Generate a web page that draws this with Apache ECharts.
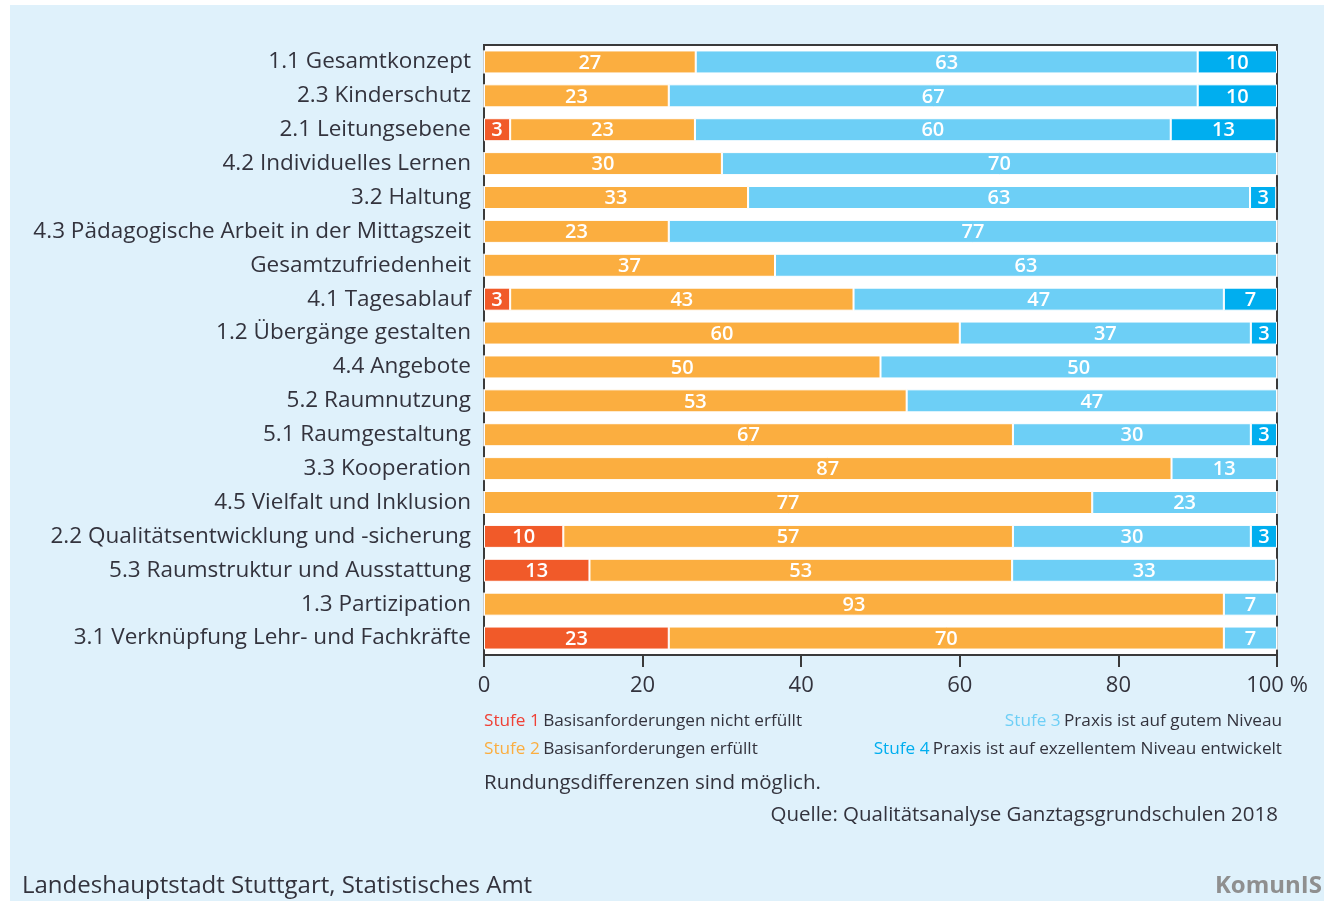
<!DOCTYPE html>
<html>
<head>
<meta charset="utf-8">
<script src="https://cdn.jsdelivr.net/npm/echarts@6/dist/echarts.min.js"></script>
<style>
  html, body { margin: 0; padding: 0; background: #fff; }
  #main { width: 1324px; height: 901px; }
</style>
</head>
<body>
<div id="main"></div>
<script>
// Kategorien von oben nach unten
var categories = [
    '1.1 Gesamtkonzept', '2.3 Kinderschutz', '2.1 Leitungsebene',
    '4.2 Individuelles Lernen', '3.2 Haltung',
    '4.3 Pädagogische Arbeit in der Mittagszeit', 'Gesamtzufriedenheit',
    '4.1 Tagesablauf', '1.2 Übergänge gestalten', '4.4 Angebote',
    '5.2 Raumnutzung', '5.1 Raumgestaltung', '3.3 Kooperation',
    '4.5 Vielfalt und Inklusion', '2.2 Qualitätsentwicklung und -sicherung',
    '5.3 Raumstruktur und Ausstattung', '1.3 Partizipation',
    '3.1 Verknüpfung Lehr- und Fachkräfte'
];
// Anteile in % (Beschriftung gerundet)
var stufe1 = [0, 0, 3.3, 0, 0, 0, 0, 3.3, 0, 0, 0, 0, 0, 0, 10, 13.3, 0, 23.3];
var stufe2 = [26.7, 23.3, 23.3, 30, 33.3, 23.3, 36.7, 43.3, 60, 50, 53.3, 66.7, 86.7, 76.7, 56.7, 53.3, 93.3, 70];
var stufe3 = [63.3, 66.7, 60, 70, 63.3, 76.7, 63.3, 46.7, 36.7, 50, 46.7, 30, 13.3, 23.3, 30, 33.3, 6.7, 6.7];
var stufe4 = [10, 10, 13.3, 0, 3.3, 0, 0, 6.7, 3.3, 0, 0, 3.3, 0, 0, 3.3, 0, 0, 0];
var xTicks = [0, 20, 40, 60, 80, 100];

var colors = ['#f15a29', '#fbae40', '#6dcff6', '#00aeef'];
var txt = '#33333d';
var font = '"Open Sans", "Noto Sans", sans-serif';

var chart = echarts.init(document.getElementById('main'));

function mkSeries(name, data, color) {
    return {
        name: name,
        type: 'bar',
        stack: 'all',
        barWidth: 23,
        data: data,
        itemStyle: { color: color, borderColor: '#fff', borderWidth: 1 },
        label: {
            show: true,
            position: 'inside',
            color: '#fff',
            fontFamily: font,
            fontSize: 20,
            fontWeight: 600,
            offset: [0, 1],
            formatter: function (p) { return p.value > 0 ? Math.round(p.value) : ''; }
        }
    };
}

function legendText(x, y, align, key, keyColor, rest) {
    return {
        type: 'text', x: x, y: y,
        style: {
            text: '{a|' + key + '} {t|' + rest + '}',
            align: align, verticalAlign: 'middle',
            rich: {
                a: { fill: keyColor, fontSize: 17.2, fontFamily: font },
                t: { fill: txt, fontSize: 17.2, fontFamily: font }
            }
        }
    };
}

chart.setOption({
    backgroundColor: '#fff',
    animation: false,
    textStyle: { fontFamily: font },
    grid: {
        left: 484, right: 47, top: 45, bottom: 246,
        show: true, backgroundColor: '#fff', borderColor: '#3a3a3a', borderWidth: 2
    },
    xAxis: {
        type: 'value',
        min: 0, max: 100, interval: 20,
        splitLine: { show: false },
        axisLine: { show: true, lineStyle: { color: '#3a3a3a', width: 2 } },
        axisTick: { show: true, length: 12, lineStyle: { color: '#3a3a3a', width: 2 } },
        axisLabel: {
            color: txt, fontSize: 22, margin: 20, fontFamily: font,
            formatter: function (v) {
                if (xTicks.indexOf(v) < 0) return '';
                return v === 100 ? '100 %' : String(v);
            }
        }
    },
    yAxis: {
        type: 'category',
        inverse: true,
        data: categories,
        axisLine: { show: false },
        axisTick: { show: false },
        axisLabel: { color: txt, fontSize: 22.5, margin: 13, fontFamily: font, padding: [7, 0, 0, 0] }
    },
    series: [
        mkSeries('Stufe 1', stufe1, colors[0]),
        mkSeries('Stufe 2', stufe2, colors[1]),
        mkSeries('Stufe 3', stufe3, colors[2]),
        mkSeries('Stufe 4', stufe4, colors[3])
    ],
    graphic: [
        // hellblaue Fläche
        { type: 'rect', z: -10, shape: { x: 10, y: 5, width: 1314, height: 896 }, style: { fill: '#dff1fb' } },
        // Legende
        legendText(484, 721, 'left', 'Stufe 1', '#ef4136', 'Basisanforderungen nicht erfüllt'),
        legendText(484, 749, 'left', 'Stufe 2', '#fbae40', 'Basisanforderungen erfüllt'),
        legendText(1282, 721, 'right', 'Stufe 3', '#6dcff6', 'Praxis ist auf gutem Niveau'),
        legendText(1282, 749, 'right', 'Stufe 4', '#00aeef', 'Praxis ist auf exzellentem Niveau entwickelt'),
        { type: 'text', x: 484, y: 783, style: { text: 'Rundungsdifferenzen sind möglich.', fill: txt, font: '20.5px ' + font, verticalAlign: 'middle' } },
        { type: 'text', x: 1278, y: 815, style: { text: 'Quelle: Qualitätsanalyse Ganztagsgrundschulen 2018', fill: txt, font: '20.5px ' + font, align: 'right', verticalAlign: 'middle' } },
        { type: 'text', x: 22, y: 886, style: { text: 'Landeshauptstadt Stuttgart, Statistisches Amt', fill: txt, font: '24px ' + font, verticalAlign: 'middle' } },
        { type: 'text', x: 1322, y: 886, style: { text: 'KomunIS', fill: '#8f8f8f', font: 'bold 24px ' + font, align: 'right', verticalAlign: 'middle' } }
    ]
});
</script>
</body>
</html>
